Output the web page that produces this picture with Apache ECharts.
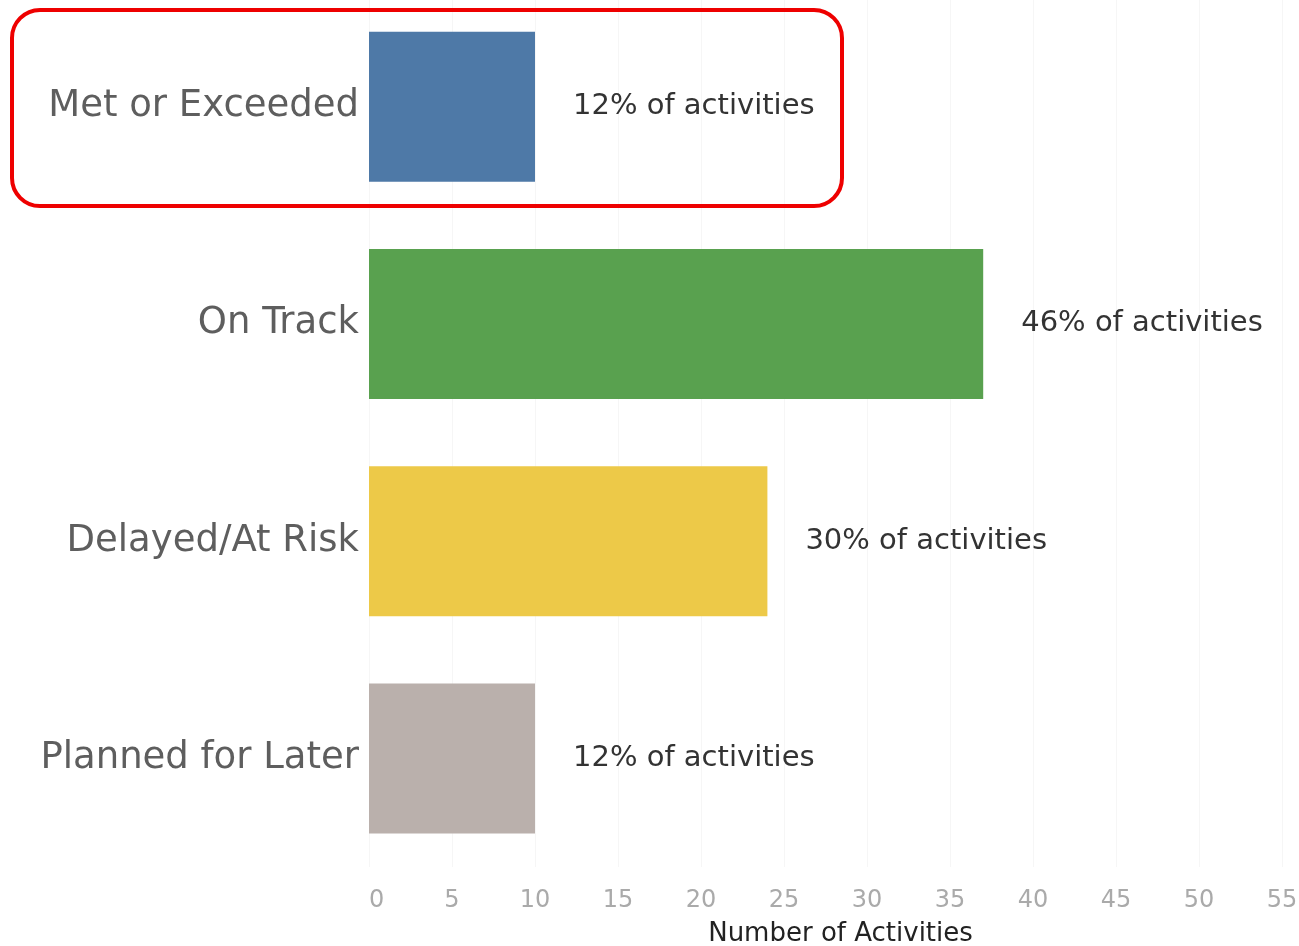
<!DOCTYPE html>
<html lang="en">
<head>
    <meta charset="utf-8">
    <title>Activities status</title>
    <style>
        html, body { margin:0; padding:0; background:#fff; }
        #main { width:1299px; height:946px; }
    </style>
</head>
<body>
    <div id="main"></div>
    <script src="https://cdn.jsdelivr.net/npm/echarts@6/dist/echarts.min.js"></script>
    <script>
        var categories = ['Met or Exceeded', 'On Track', 'Delayed/At Risk', 'Planned for Later'];
        var counts = [10, 37, 24, 10];
        var barColors = ['#4e79a7', '#59a14f', '#edc948', '#bab0ac'];
        var xTicks = [0, 5, 10, 15, 20, 25, 30, 35, 40, 45, 50, 55];

        var total = 0;
        for (var i = 0; i < counts.length; i++) total += counts[i];

        var seriesData = [];
        for (var i = 0; i < counts.length; i++) {
            seriesData.push({ value: counts[i], itemStyle: { color: barColors[i] } });
        }

        var myChart = echarts.init(document.getElementById('main'));
        var option = {
            backgroundColor: '#fff',
            animation: false,
            textStyle: { fontFamily: 'DejaVu Sans' },
            grid: {
                left: 369,
                right: 17,
                top: -2,
                bottom: 79,
                containLabel: false,
                outerBoundsMode: 'none'
            },
            xAxis: {
                type: 'value',
                min: xTicks[0],
                max: xTicks[xTicks.length - 1],
                interval: 5,
                name: 'Number of Activities',
                nameLocation: 'middle',
                nameGap: 54,
                nameTextStyle: {
                    color: '#222',
                    fontSize: 26,
                    fontFamily: 'DejaVu Sans',
                    padding: [0, 0, 0, 30]
                },
                axisLine: { show: false },
                axisTick: { show: false },
                axisLabel: {
                    color: '#aaa',
                    fontSize: 24,
                    margin: 22,
                    alignMinLabel: 'left'
                },
                splitLine: { show: true, lineStyle: { color: '#f6f6f6', width: 1 } }
            },
            yAxis: {
                type: 'category',
                inverse: true,
                data: categories,
                axisLine: { show: false },
                axisTick: { show: false },
                axisLabel: {
                    color: '#5e5e5e',
                    fontSize: 37,
                    margin: 10
                }
            },
            series: [{
                type: 'bar',
                barWidth: 150,
                data: seriesData,
                label: {
                    show: true,
                    position: 'right',
                    distance: 38,
                    color: '#333',
                    fontSize: 29,
                    formatter: function (p) {
                        return Math.round(p.value / total * 100) + '% of activities';
                    }
                }
            }],
            graphic: [{
                type: 'rect',
                shape: { x: 12, y: 10, width: 830, height: 196, r: 28 },
                style: { fill: 'none', stroke: '#ee0000', lineWidth: 4 },
                z: 100
            }]
        };
        myChart.setOption(option);
    </script>
</body>
</html>
